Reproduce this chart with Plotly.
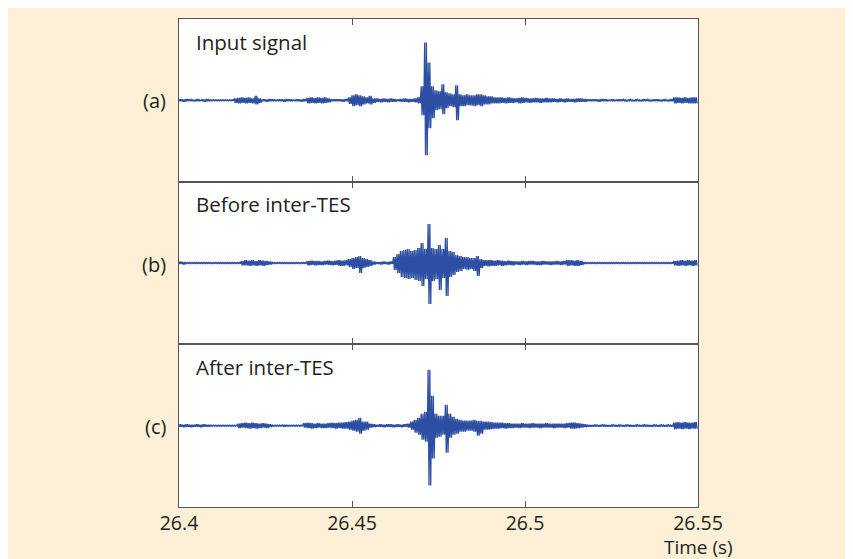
import plotly.graph_objects as go

# ---- data: min/max envelope of the waveform per 1 ms bin (amplitude, arbitrary units) ----
T_START = 26.4          # s, start of window
BIN_S = 0.001           # s per bin

panel_labels = ["(a)", "(b)", "(c)"]
panel_titles = ["Input signal", "Before inter-TES", "After inter-TES"]
x_ticks = [26.4, 26.45, 26.5, 26.55]
x_tick_text = ["26.4", "26.45", "26.5", "26.55"]

hi_a = [1.5,1,1.5,1,0.5,1.5,0.5,1,1.5,0.5,
        0.5,0.5,0.5,0.5,0.5,0.5,2,2.5,3,2.5,
        3,2,4.5,2,1,1,1.5,1,0.5,1,
        1,1.5,1,0.5,1,1,1.5,2.5,3,2.5,
        3,2.5,3,2,1,1,1,1,1.5,3,
        5,6,5,4,3,4.5,2,2,1.5,2,
        1.5,2,1.5,1,1.5,2,1.5,1.5,2,3,
        14,58,38,14,10,9,16,8,7,6,
        15,6,5,6,5,5,6,6,5,4,
        4,3,3,3,2.5,3,2.5,2,2.5,3,
        2.5,2,2,2.5,2,2,2.5,2,2,1.5,
        2,1.5,2,1.5,1.5,2,2,1.5,1,1,
        1,1,1.5,1,0.5,1,0.5,1,1,0.5,
        1,0.5,1,0.5,1,1,0.5,1,1,0.5,
        1,0.5,1.5,3,3,2.5,3,2.5,3,3]
lo_a = [-1,-1.5,-1,-0.5,-1,-1,-0.5,-1.5,-1,-0.5,
        -0.5,-0.5,-0.5,-0.5,-0.5,-0.5,-2.5,-3,-2.5,-3,
        -2.5,-3,-4,-2.5,-1,-1.5,-1,-1,-0.5,-1,
        -1.5,-1,-1,-0.5,-1,-1.5,-1,-3,-2.5,-3,
        -2.5,-3,-2.5,-2,-1,-1,-1,-1.5,-1,-3.5,
        -6,-5,-6,-4,-3,-4,-2.5,-1.5,-2,-1.5,
        -2,-1.5,-1.5,-1,-1.5,-1.5,-2,-1.5,-2,-3,
        -15,-55,-28,-18,-10,-9,-14,-8,-6,-7,
        -20,-6,-6,-5,-5,-6,-5,-6,-4,-4,
        -3,-3,-3,-2.5,-3,-2.5,-2.5,-2,-3,-2.5,
        -2,-2.5,-2,-2,-2.5,-2,-2,-2,-1.5,-2,
        -1.5,-2,-1.5,-1.5,-2,-1.5,-1.5,-1.5,-1,-1,
        -1,-1.5,-1,-1,-0.5,-1,-0.5,-1,-0.5,-1,
        -0.5,-1,-0.5,-1,-1,-0.5,-1,-1,-0.5,-1,
        -0.5,-1,-1,-3,-2.5,-3,-2.5,-3,-3,-3]

hi_b = [1.5,1,0.5,0.5,0.5,0.5,0.5,0.5,0.5,0.5,
        0.5,0.5,0.5,0.5,0.5,0.5,0.5,0.5,2,3,
        2.5,3,2,3,2.5,2,1.5,0.5,0.5,0.5,
        0.5,0.5,0.5,0.5,0.5,0.5,0.5,2,2.5,2,
        2,1.5,2,2.5,2,2.5,3,2.5,3,4,
        5,6,7,5,4,3,1.5,1,1,1.5,
        1,1.5,6,9,12,13,14,12,13,15,
        20,14,39,15,14,18,14,25,12,11,
        8,7,6,6,5,5,7,4,3,3,
        3,2.5,3,2.5,2,2.5,2,1.5,1.5,2,
        1.5,2,2,1.5,1.5,2,1.5,1.5,1.5,2,
        1.5,2,3,3,2.5,3,2,1,0.5,0.5,
        0.5,0.5,0.5,0.5,0.5,0.5,0.5,0.5,0.5,0.5,
        0.5,0.5,0.5,0.5,0.5,0.5,0.5,0.5,0.5,0.5,
        0.5,0.5,0.5,2,2.5,3,2.5,3,2.5,3]
lo_b = [-1,-1.5,-0.5,-0.5,-0.5,-0.5,-0.5,-0.5,-0.5,-0.5,
        -0.5,-0.5,-0.5,-0.5,-0.5,-0.5,-0.5,-0.5,-2.5,-2.5,
        -3,-2.5,-3,-2.5,-3,-2,-1.5,-0.5,-0.5,-0.5,
        -0.5,-0.5,-0.5,-0.5,-0.5,-0.5,-0.5,-2.5,-2,-2.5,
        -2,-2,-1.5,-2,-2.5,-2,-3,-3,-2.5,-4,
        -6,-5,-10,-5,-4,-3,-1.5,-1,-1.5,-1,
        -1.5,-1,-7,-10,-14,-15,-16,-15,-17,-18,
        -23,-16,-41,-18,-16,-27,-15,-33,-14,-12,
        -9,-8,-6,-7,-6,-8,-13,-5,-3,-3.5,
        -3,-3,-2.5,-3,-2.5,-2,-2.5,-1.5,-2,-1.5,
        -2,-1.5,-1.5,-2,-2,-1.5,-1.5,-2,-1.5,-1.5,
        -2,-1.5,-3,-2.5,-3,-3,-2,-1,-0.5,-0.5,
        -0.5,-0.5,-0.5,-0.5,-0.5,-0.5,-0.5,-0.5,-0.5,-0.5,
        -0.5,-0.5,-0.5,-0.5,-0.5,-0.5,-0.5,-0.5,-0.5,-0.5,
        -0.5,-0.5,-0.5,-2.5,-3,-2.5,-3,-2.5,-3,-2.5]

hi_c = [1.5,1,1.5,1,1,1.5,1,1.5,1,0.5,
        0.5,0.5,0.5,0.5,0.5,0.5,0.5,2,2.5,3,
        2.5,3,2.5,2,2.5,2,1.5,0.5,0.5,0.5,
        1,0.5,0.5,0.5,0.5,0.5,2.5,3,2.5,2,
        2.5,2,2,2.5,3,2.5,3,3,3.5,4,
        5,6,8,4,4,2,1.5,1,1.5,1,
        1.5,1.5,1,1.5,1,1.5,2,4,6,8,
        12,14,56,30,12,10,10,21,12,9,
        7,6,5,5,5,6,5,5,4,4,
        3.5,3,3,3,2.5,2.5,2,2,2,2.5,
        2,2,2.5,2,2,2,2.5,2,2,2,
        2,2,2.5,3,3,2.5,2,1.5,1,0.5,
        1,0.5,1,1,0.5,1,0.5,1,0.5,1,
        1,0.5,1,0.5,1,1,0.5,1,0.5,1,
        0.5,1,0.5,3,3.5,3,3.5,3,3,3.5]
lo_c = [-1,-1.5,-1,-1.5,-1,-1,-1.5,-1,-1,-0.5,
        -0.5,-0.5,-0.5,-0.5,-0.5,-0.5,-0.5,-2.5,-2,-2.5,
        -3,-2.5,-3,-2.5,-2,-2.5,-1.5,-0.5,-0.5,-0.5,
        -1,-0.5,-0.5,-0.5,-0.5,-0.5,-2,-2.5,-3,-2.5,
        -2,-2.5,-2.5,-2,-2.5,-3,-2.5,-3,-3,-4,
        -5,-6,-8,-5,-4,-2,-1.5,-1,-1,-1.5,
        -1,-1.5,-1.5,-1,-1.5,-1,-2,-4,-7,-9,
        -14,-16,-60,-33,-12,-11,-9,-27,-12,-9,
        -8,-6,-6,-5,-5,-6,-10,-8,-4,-4,
        -3.5,-3,-3,-2.5,-3,-2.5,-2.5,-2,-2.5,-2,
        -2,-2.5,-2,-2,-2.5,-2,-2,-2,-2.5,-2,
        -2,-2.5,-2,-3,-3,-2.5,-2,-1.5,-1,-1,
        -0.5,-1,-0.5,-1,-1,-0.5,-1,-0.5,-1,-0.5,
        -1,-1,-0.5,-1,-0.5,-1,-1,-0.5,-1,-0.5,
        -1,-0.5,-1,-3.5,-3,-3.5,-3,-3.5,-3,-3]

panels = [(hi_a, lo_a), (hi_b, lo_b), (hi_c, lo_c)]

# ---- figure (page body adds an 8 px offset, margins account for it) ----
W, H = 853, 559
ML, MR, MT, MB = 171, 163, 11, 60
BG = "#FEF0D6"
LINE = "#2C4EA3"
FRAME = "#555555"
TXT = "#231F20"
FONT = "Open Sans"

fig = go.Figure()
domains = [[2/3, 1.0], [1/3, 2/3], [0.0, 1/3]]
STROKES = 4  # min/max strokes drawn per bin

for k, (hi, lo) in enumerate(panels):
    xs, ys = [], []
    for i, (h, l) in enumerate(zip(hi, lo)):
        t = T_START + i * BIN_S
        for s in range(STROKES):
            xs.append(t + s * BIN_S / STROKES)
            ys.append(h if s % 2 == 0 else l)
    sfx = "" if k == 0 else str(k + 1)
    fig.add_trace(go.Scatter(x=xs, y=ys, mode="lines",
                             line=dict(color=LINE, width=1.3),
                             xaxis="x" + sfx, yaxis="y" + sfx,
                             showlegend=False, hoverinfo="skip"))
    xa = dict(domain=[0, 1], range=[26.4, 26.55], anchor="y" + sfx,
              showline=True, linecolor=FRAME, linewidth=1.2, mirror="ticks",
              ticks="inside", ticklen=6, tickcolor=FRAME, tickwidth=1,
              tickvals=x_ticks, ticktext=x_tick_text, ticklabelstandoff=-2,
              showticklabels=(k == 2), showgrid=False, zeroline=False,
              tickfont=dict(family=FONT, size=19.5, color=TXT))
    ya = dict(domain=domains[k], range=[-81.5, 81.5], anchor="x" + sfx,
              showline=True, linecolor=FRAME, linewidth=1.2, mirror=True,
              ticks="", showticklabels=False, showgrid=False, zeroline=False)
    fig.update_layout(**{"xaxis" + sfx: xa, "yaxis" + sfx: ya})

annotations = []
label_y = [0.832, 0.496, 0.164]
title_y = [0.953, 0.620, 0.286]
for k in range(3):
    annotations.append(dict(text=panel_labels[k], x=-0.021, y=label_y[k],
                            xref="paper", yref="paper", xanchor="right", yanchor="middle",
                            showarrow=False, font=dict(family=FONT, size=20, color=TXT)))
    annotations.append(dict(text=panel_titles[k], x=0.029, y=title_y[k],
                            xref="paper", yref="paper", xanchor="left", yanchor="middle",
                            showarrow=False, font=dict(family=FONT, size=20.5, color=TXT)))
annotations.append(dict(text="Time (s)", x=1.071, y=-0.082,
                        xref="paper", yref="paper", xanchor="right", yanchor="middle",
                        showarrow=False, font=dict(family=FONT, size=19, color=TXT)))

fig.update_layout(width=W, height=H, margin=dict(l=ML, r=MR, t=MT, b=MB),
                  paper_bgcolor=BG, plot_bgcolor="white",
                  annotations=annotations, showlegend=False)

fig.write_html("out.html")
